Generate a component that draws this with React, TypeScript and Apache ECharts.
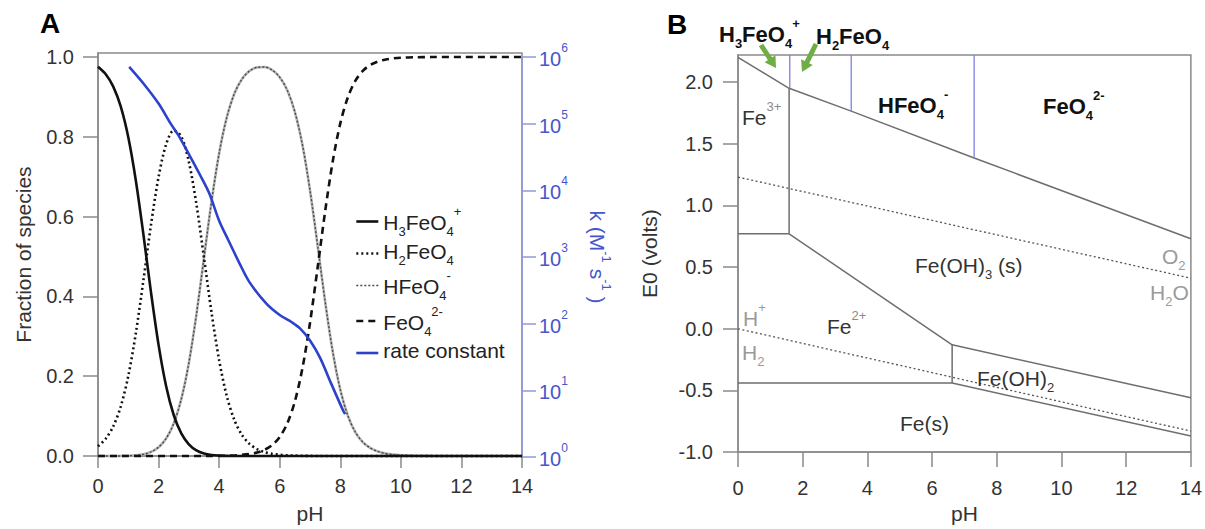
import React, { useEffect, useRef } from 'react';
import * as echarts from 'echarts';

const FONT = '"Liberation Sans", Arial, Helvetica, sans-serif';

// ---------- Panel A: speciation of ferrate vs pH ----------
const pHGrid = [0, 0.25, 0.5, 0.75, 1, 1.25, 1.5, 1.75, 2, 2.25, 2.5, 2.75, 3, 3.25, 3.5, 3.75, 4, 4.25, 4.5, 4.75, 5, 5.25, 5.5, 5.75, 6, 6.25, 6.5, 6.75, 7, 7.25, 7.5, 7.75, 8, 8.25, 8.5, 8.75, 9, 9.25, 9.5, 9.75, 10, 10.5, 11, 12, 13, 14];
const fracH3FeO4 = [0.9755, 0.9572, 0.9263, 0.876, 0.7987, 0.69, 0.5549, 0.4102, 0.2785, 0.1749, 0.1027, 0.0567, 0.0294, 0.0141, 0.0063, 0.0025, 0.001, 0.0003, 0.0001, 0, 0, 0, 0, 0, 0, 0, 0, 0, 0, 0, 0, 0, 0, 0, 0, 0, 0, 0, 0, 0, 0, 0, 0, 0, 0, 0];
const fracH2FeO4 = [0.0245, 0.0428, 0.0736, 0.1237, 0.2006, 0.3082, 0.4407, 0.5795, 0.6994, 0.7812, 0.8157, 0.8009, 0.7374, 0.631, 0.4968, 0.359, 0.2399, 0.1508, 0.0908, 0.0531, 0.0305, 0.0173, 0.0098, 0.0054, 0.003, 0.0016, 0.0009, 0.0004, 0.0002, 0.0001, 0, 0, 0, 0, 0, 0, 0, 0, 0, 0, 0, 0, 0, 0, 0, 0];
const fracHFeO4 = [0, 0, 0.0001, 0.0002, 0.0006, 0.0017, 0.0044, 0.0103, 0.0221, 0.0439, 0.0816, 0.1424, 0.2332, 0.3548, 0.4968, 0.6383, 0.7587, 0.8481, 0.9077, 0.9442, 0.9647, 0.974, 0.9748, 0.9673, 0.9494, 0.9167, 0.8624, 0.7798, 0.666, 0.5287, 0.3868, 0.2619, 0.1663, 0.1009, 0.0594, 0.0343, 0.0196, 0.0111, 0.0063, 0.0035, 0.002, 0.0006, 0.0002, 0, 0, 0];
const fracFeO4 = [0, 0, 0, 0, 0, 0, 0, 0, 0, 0, 0, 0, 0, 0, 0.0001, 0.0002, 0.0004, 0.0008, 0.0014, 0.0027, 0.0048, 0.0087, 0.0155, 0.0273, 0.0476, 0.0817, 0.1367, 0.2198, 0.3338, 0.4712, 0.6131, 0.7381, 0.8337, 0.8991, 0.9406, 0.9657, 0.9804, 0.9889, 0.9937, 0.9965, 0.998, 0.9994, 0.9998, 1, 1, 1];

const ratePH = [1.03, 1.5, 2.0, 2.4, 2.69, 3.0, 3.4, 3.68, 4.0, 4.3, 4.68, 5.0, 5.56, 6.0, 6.4, 6.67, 7.0, 7.33, 7.7, 8.1, 8.16];
const rateK = [7.1e5, 4.0e5, 2.0e5, 1.0e5, 6.3e4, 3.5e4, 1.6e4, 8.9e3, 3.5e3, 1.8e3, 790, 420, 200, 135, 105, 85, 56, 31, 12.6, 4.9, 4.4];

const fracTicks = [0, 0.2, 0.4, 0.6, 0.8, 1.0];

// ---------- Panel B: Pourbaix diagram (E0 vs pH) ----------
const eTicks = [-1, -0.5, 0, 0.5, 1, 1.5, 2];
const ferrateBoundary = [[0, 2.2], [1.58, 1.95], [3.5, 1.765], [7.3, 1.385], [14, 0.73]];
const fe3Vertical = [[1.58, 1.95], [1.58, 0.77]];
const fe3Horizontal = [[0, 0.77], [1.58, 0.77]];
const fe2Upper = [[1.58, 0.77], [6.62, -0.13], [14, -0.56]];
const feOH2Left = [[6.62, -0.13], [6.62, -0.44]];
const feLower = [[0, -0.44], [6.62, -0.44], [14, -0.87]];
const pKaLines = [
  [[1.6, 2.22], [1.6, 1.95]],
  [[3.5, 2.22], [3.5, 1.765]],
  [[7.3, 2.22], [7.3, 1.385]],
];
const o2Line = [[0, 1.23], [14, 0.41]];
const h2Line = [[0, 0], [14, -0.83]];

const pairs = (xs: number[], ys: number[]) => xs.map((x, i) => [x, ys[i]]);

const ecRich = (S: number, s: number, P: number, color: string, scriptColor: string, weight = 'normal') => ({
  m: { fontSize: S, fontFamily: FONT, color, fontWeight: weight, verticalAlign: 'bottom', padding: [0, 0, 5, 0] },
  b: { fontSize: s, fontFamily: FONT, color: scriptColor, fontWeight: weight, verticalAlign: 'bottom' },
  p: { fontSize: s, fontFamily: FONT, color: scriptColor, fontWeight: weight, verticalAlign: 'bottom', padding: [0, 0, P, 0] },
});

const zrRich = (S: number, s: number, P: number, color: string, scriptColor: string, weight = 'normal') => ({
  m: { fontSize: S, fontFamily: FONT, fill: color, fontWeight: weight, verticalAlign: 'bottom', padding: [0, 0, 5, 0] },
  b: { fontSize: s, fontFamily: FONT, fill: scriptColor, fontWeight: weight, verticalAlign: 'bottom' },
  p: { fontSize: s, fontFamily: FONT, fill: scriptColor, fontWeight: weight, verticalAlign: 'bottom', padding: [0, 0, P, 0] },
});

export default function App() {
  const ref = useRef<HTMLDivElement>(null);

  useEffect(() => {
    const chart = echarts.init(ref.current as HTMLDivElement, null, { renderer: 'svg' });
    const axisGray = '#8a8a8a';
    const blueAxis = '#8f98dc';
    const blueText = '#4656cc';
    const labelStyle = { fontSize: 20, color: '#333', fontFamily: FONT };
    const nameStyle = { fontSize: 21, color: '#333', fontFamily: FONT };

    const legendNames: Record<string, string> = {
      'H3FeO4+': '{m|H}{b|3}{m|FeO}{b|4}{p|+}',
      'H2FeO4': '{m|H}{b|2}{m|FeO}{b|4}',
      'HFeO4-': '{m|HFeO}{b|4}{p|-}',
      'FeO4 2-': '{m|FeO}{b|4}{p|2-}',
      'rate constant': '{m|rate constant}',
    };

    const speciesSeries = (name: string, data: number[], lineStyle: any, z = 4) => ({
      name, type: 'line', xAxisIndex: 0, yAxisIndex: 0,
      data: pairs(pHGrid, data), smooth: 0.3, symbol: 'none', showSymbol: false,
      clip: false, silent: true, lineStyle, itemStyle: { color: lineStyle.color }, z,
    });
    const bSeries = (data: number[][], lineStyle: any) => ({
      type: 'line', xAxisIndex: 2, yAxisIndex: 2, data, symbol: 'none', showSymbol: false,
      clip: false, silent: true, lineStyle, z: 3,
    });

    const boundary = { color: '#6e6e6e', width: 1.5 };
    const blueV = { color: '#7f80e0', width: 1.3 };
    const water = { color: '#555', width: 1.3, type: [2, 2.5] };

    // text annotations of panel B
    const bigRich = zrRich(22, 13, 20, '#111', '#111', 'bold');
    const normRich = zrRich(21, 13, 20, '#333', '#333');
    const feRich = zrRich(21, 13, 20, '#333', '#8a8a8a');
    const grayRich = zrRich(21, 13, 20, '#9a9a9a', '#9a9a9a');
    const label = (text: string, x: number, cy: number, rich: any, sup: boolean, bold = false) => ({
      type: 'text', x, y: cy - (sup ? (bold ? 17 : 17.5) : (bold ? 11 : 10.5)), silent: true, z: 10,
      style: { text, rich, align: 'left', verticalAlign: 'top', fontFamily: FONT, fontSize: 21 },
    });
    const green = '#6fae45';
    const arrow = (x1: number, y1: number, x2: number, y2: number) => {
      const dx = x2 - x1, dy = y2 - y1;
      const len = Math.sqrt(dx * dx + dy * dy);
      const ux = dx / len, uy = dy / len;
      const hl = 11, hw = 6.5;
      const bx = x2 - ux * hl, by = y2 - uy * hl;
      return [
        { type: 'line', silent: true, z: 10, shape: { x1, y1, x2: bx + ux, y2: by + uy }, style: { stroke: green, lineWidth: 5 } },
        { type: 'polygon', silent: true, z: 10, shape: { points: [[x2, y2], [bx - uy * hw, by + ux * hw], [bx + uy * hw, by - ux * hw]] }, style: { fill: green } },
      ];
    };

    const option: any = {
      animation: false,
      backgroundColor: '#ffffff',
      textStyle: { fontFamily: FONT },
      grid: [
        { left: 98, top: 53, width: 424, height: 404, show: true, borderColor: axisGray, borderWidth: 1.5 },
        { left: 98, top: 57, width: 424, height: 400, show: false },
        { left: 738, top: 55, width: 455, height: 403, show: true, borderColor: axisGray, borderWidth: 1.5 },
      ],
      xAxis: [
        {
          gridIndex: 0, type: 'value', min: 0, max: 14, interval: 2,
          axisLine: { onZero: false, lineStyle: { color: axisGray, width: 1.5 } },
          axisTick: { length: 12, lineStyle: { color: axisGray, width: 1.5 } },
          axisLabel: { ...labelStyle, margin: 20 },
          splitLine: { show: false },
          name: 'pH', nameLocation: 'middle', nameGap: 47, nameTextStyle: nameStyle,
        },
        { gridIndex: 1, type: 'value', min: 0, max: 14, show: false },
        {
          gridIndex: 2, type: 'value', min: 0, max: 14, interval: 2,
          axisLine: { onZero: false, lineStyle: { color: axisGray, width: 1.5 } },
          axisTick: { length: 15, lineStyle: { color: axisGray, width: 1.5 } },
          axisLabel: { ...labelStyle, margin: 26 },
          splitLine: { show: false },
          name: 'pH', nameLocation: 'middle', nameGap: 49, nameTextStyle: nameStyle,
        },
      ],
      yAxis: [
        {
          gridIndex: 0, type: 'value', min: 0, max: 1.01,
          axisLine: { show: true, onZero: false, lineStyle: { color: axisGray, width: 1.5 } },
          axisTick: { show: true, length: 15, customValues: fracTicks, lineStyle: { color: axisGray, width: 1.5 } },
          axisLabel: { ...labelStyle, margin: 24, customValues: fracTicks, formatter: (v: number) => v.toFixed(1) },
          splitLine: { show: false },
          name: 'Fraction of species', nameLocation: 'middle', nameRotate: 90, nameGap: 64, nameTextStyle: nameStyle,
        },
        {
          gridIndex: 1, type: 'log', logBase: 10, min: 1, max: 1e6, position: 'right',
          axisLine: { show: true, onZero: false, lineStyle: { color: blueAxis, width: 1.5 } },
          axisTick: { show: true, length: 14, lineStyle: { color: blueAxis, width: 1.5 } },
          axisLabel: {
            margin: 17,
            formatter: (v: number) => `{t|10}{e|${Math.round(Math.log10(v))}}`,
            rich: {
              t: { fontSize: 20, fontFamily: FONT, color: blueText, verticalAlign: 'bottom', padding: [0, 0, 3, 0] },
              e: { fontSize: 12, fontFamily: FONT, color: blueText, verticalAlign: 'bottom', padding: [0, 0, 18, 0] },
            },
          },
          splitLine: { show: false },
          name: '{n|k (M}{e|-1}{n| s}{e|-1}{n| )}', nameLocation: 'middle', nameRotate: -90, nameGap: 60,
          nameTextStyle: {
            rich: {
              n: { fontSize: 21, fontFamily: FONT, color: blueText, verticalAlign: 'bottom', padding: [0, 0, 5, 0] },
              e: { fontSize: 13, fontFamily: FONT, color: blueText, verticalAlign: 'bottom', padding: [0, 0, 18, 0] },
            },
          },
        },
        {
          gridIndex: 2, type: 'value', min: -1, max: 2.22,
          axisLine: { show: true, onZero: false, lineStyle: { color: axisGray, width: 1.5 } },
          axisTick: { show: true, length: 15, customValues: eTicks, lineStyle: { color: axisGray, width: 1.5 } },
          axisLabel: { ...labelStyle, margin: 25, customValues: eTicks, formatter: (v: number) => v.toFixed(1) },
          splitLine: { show: false },
          name: 'E0 (volts)', nameLocation: 'middle', nameRotate: 90, nameGap: 78, nameTextStyle: nameStyle,
        },
      ],
      legend: {
        data: ['H3FeO4+', 'H2FeO4', 'HFeO4-', 'FeO4 2-', 'rate constant'],
        orient: 'vertical', left: 355, top: 205, padding: 0, itemGap: 2.5,
        itemWidth: 22, itemHeight: 12, selectedMode: false,
        itemStyle: { opacity: 0 },
        lineStyle: { width: 'inherit', opacity: 1 },
        formatter: (name: string) => legendNames[name] || name,
        textStyle: { fontSize: 21, fontFamily: FONT, color: '#222', rich: ecRich(21, 13, 20, '#222', '#222') },
      },
      series: [
        speciesSeries('HFeO4 base', fracHFeO4, { color: '#b4b4b4', width: 2.6 }, 3),
        speciesSeries('HFeO4-', fracHFeO4, { color: '#4a4a4a', width: 1.4, type: [2, 2] }),
        speciesSeries('H3FeO4+', fracH3FeO4, { color: '#111', width: 2.6 }),
        speciesSeries('H2FeO4', fracH2FeO4, { color: '#111', width: 2.6, type: [2, 3] }),
        speciesSeries('FeO4 2-', fracFeO4, { color: '#111', width: 2.6, type: [7, 5] }),
        {
          name: 'rate constant', type: 'line', xAxisIndex: 1, yAxisIndex: 1,
          data: pairs(ratePH, rateK), smooth: 0.3, symbol: 'none', showSymbol: false, silent: true,
          lineStyle: { color: '#2d42cc', width: 2.6 }, itemStyle: { color: '#2d42cc' }, z: 5,
        },
        bSeries(ferrateBoundary, boundary),
        bSeries(fe3Vertical, boundary),
        bSeries(fe3Horizontal, boundary),
        bSeries(fe2Upper, boundary),
        bSeries(feOH2Left, boundary),
        bSeries(feLower, boundary),
        ...pKaLines.map((l) => bSeries(l, blueV)),
        bSeries(o2Line, water),
        bSeries(h2Line, water),
      ],
      graphic: [
        { type: 'text', x: 40, y: 23, silent: true, style: { text: 'A', fontFamily: FONT, fontSize: 28, fontWeight: 'bold', fill: '#000', align: 'left', verticalAlign: 'middle' } },
        { type: 'text', x: 667, y: 24, silent: true, style: { text: 'B', fontFamily: FONT, fontSize: 28, fontWeight: 'bold', fill: '#000', align: 'left', verticalAlign: 'middle' } },
        label('{m|H}{b|3}{m|FeO}{b|4}{p|+}', 719, 34, bigRich, true, true),
        label('{m|H}{b|2}{m|FeO}{b|4}', 816, 36, bigRich, false, true),
        label('{m|HFeO}{b|4}{p|-}', 878, 105, bigRich, true, true),
        label('{m|FeO}{b|4}{p|2-}', 1043, 106, bigRich, true, true),
        label('{m|Fe}{p|3+}', 742, 117, feRich, true),
        label('{m|Fe(OH)}{b|3}{m| (s)}', 915, 265, normRich, false),
        label('{m|O}{b|2}', 1162, 256, grayRich, false),
        label('{m|H}{b|2}{m|O}', 1150, 292, grayRich, false),
        label('{m|H}{p|+}', 743, 318, grayRich, true),
        label('{m|H}{b|2}', 742, 352, grayRich, false),
        label('{m|Fe}{p|2+}', 827, 326, feRich, true),
        label('{m|Fe(OH)}{b|2}', 977, 378, normRich, false),
        label('{m|Fe(s)}', 900, 423, normRich, false),
        ...arrow(761, 45, 776, 68),
        ...arrow(816, 44, 802, 72),
      ],
    };

    chart.setOption(option);
    return () => chart.dispose();
  }, []);

  return (
    <div
      ref={ref}
      style={{ position: 'absolute', left: 0, top: 0, width: 1205, height: 529, background: '#fff' }}
    />
  );
}
